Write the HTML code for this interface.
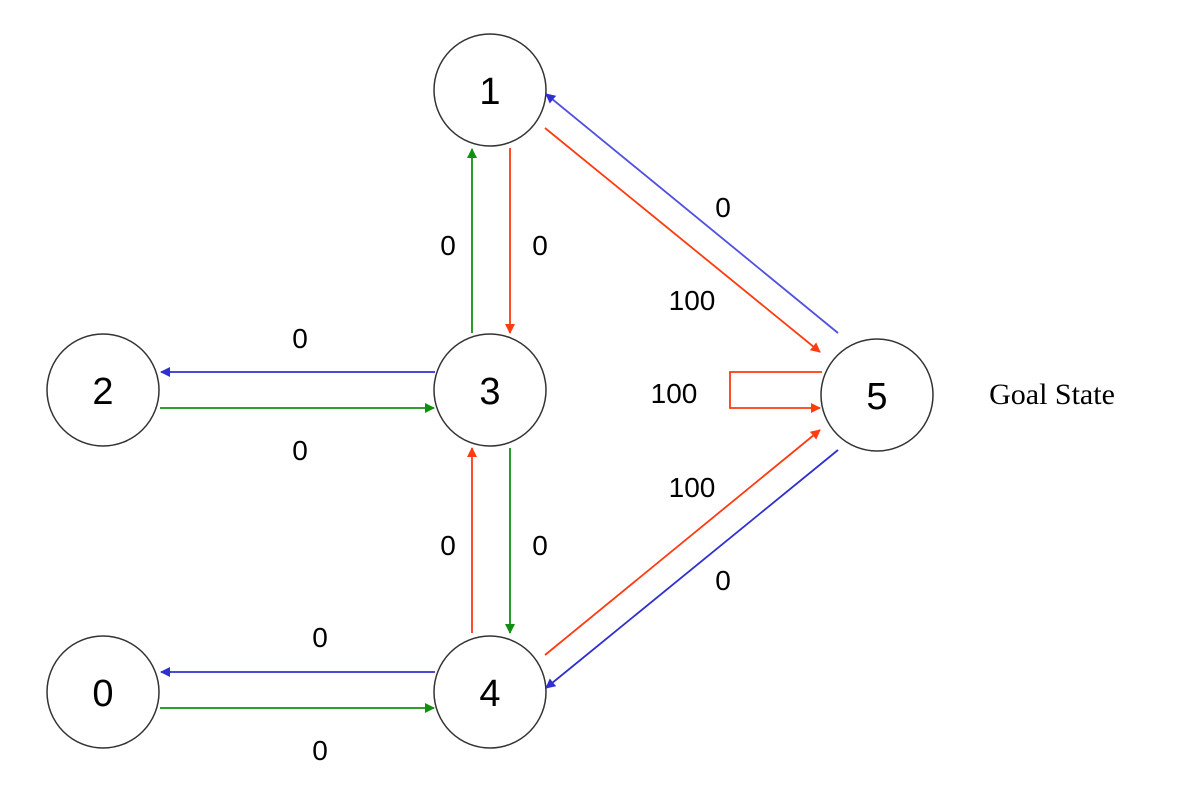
<!DOCTYPE html>
<html><head><style>body{margin:0;background:#fff}</style></head><body>
<svg width="1184" height="790" xmlns="http://www.w3.org/2000/svg">
<defs>
<marker id="r" markerWidth="10" markerHeight="10" refX="9" refY="5" orient="auto" markerUnits="userSpaceOnUse" viewBox="0 0 10 10"><path d="M0,0 L10,5 L0,10z" fill="#ff3b10"/></marker>
<marker id="g" markerWidth="10" markerHeight="10" refX="9" refY="5" orient="auto" markerUnits="userSpaceOnUse" viewBox="0 0 10 10"><path d="M0,0 L10,5 L0,10z" fill="#109010"/></marker>
<marker id="b" markerWidth="10" markerHeight="10" refX="9" refY="5" orient="auto" markerUnits="userSpaceOnUse" viewBox="0 0 10 10"><path d="M0,0 L10,5 L0,10z" fill="#3030d0"/></marker>
</defs>
<g fill="#fff" stroke="#333" stroke-width="1.5">
<circle cx="490" cy="90" r="56"/><circle cx="490" cy="390" r="56"/><circle cx="103" cy="390" r="56"/>
<circle cx="103" cy="692" r="56"/><circle cx="490" cy="692" r="56"/><circle cx="877" cy="395" r="56"/>
</g>
<g stroke-width="1.8" fill="none">
<line x1="510" y1="148" x2="510" y2="333" stroke="#ff3b10" marker-end="url(#r)"/>
<line x1="472" y1="333" x2="472" y2="149" stroke="#109010" marker-end="url(#g)"/>
<line x1="545" y1="128" x2="820" y2="352" stroke="#ff3b10" marker-end="url(#r)"/>
<line x1="838" y1="333" x2="546" y2="94" stroke="#5050e0" marker-end="url(#b)"/>
<polyline points="822,372 730,372 730,408 820,408" stroke="#ff3b10" marker-end="url(#r)"/>
<line x1="435" y1="372" x2="161" y2="372" stroke="#3030d0" marker-end="url(#b)"/>
<line x1="160" y1="408" x2="434" y2="408" stroke="#109010" marker-end="url(#g)"/>
<line x1="510" y1="448" x2="510" y2="633" stroke="#109010" marker-end="url(#g)"/>
<line x1="472" y1="633" x2="472" y2="448" stroke="#ff3b10" marker-end="url(#r)"/>
<line x1="545" y1="655" x2="820" y2="430" stroke="#ff3b10" marker-end="url(#r)"/>
<line x1="838" y1="450" x2="546" y2="688" stroke="#3030d0" marker-end="url(#b)"/>
<line x1="435" y1="672" x2="161" y2="672" stroke="#3030d0" marker-end="url(#b)"/>
<line x1="160" y1="708" x2="434" y2="708" stroke="#109010" marker-end="url(#g)"/>
</g>
<g font-family="Liberation Sans, sans-serif" font-size="38" text-anchor="middle" fill="#000">
<text x="490" y="104">1</text><text x="490" y="404">3</text><text x="103" y="404">2</text>
<text x="103" y="706">0</text><text x="490" y="706">4</text><text x="877" y="409">5</text>
</g>
<g font-family="Liberation Sans, sans-serif" font-size="28" text-anchor="middle" fill="#000">
<text x="300" y="348">0</text><text x="300" y="460">0</text>
<text x="448" y="255">0</text><text x="540" y="255">0</text>
<text x="723" y="217">0</text><text x="692" y="310">100</text>
<text x="674" y="403">100</text><text x="692" y="497">100</text>
<text x="723" y="590">0</text>
<text x="448" y="555">0</text><text x="540" y="555">0</text>
<text x="320" y="647">0</text><text x="320" y="760">0</text>
</g>
<text x="1052" y="404" font-family="Liberation Serif, serif" font-size="30" text-anchor="middle">Goal State</text>
</svg>
</body></html>
